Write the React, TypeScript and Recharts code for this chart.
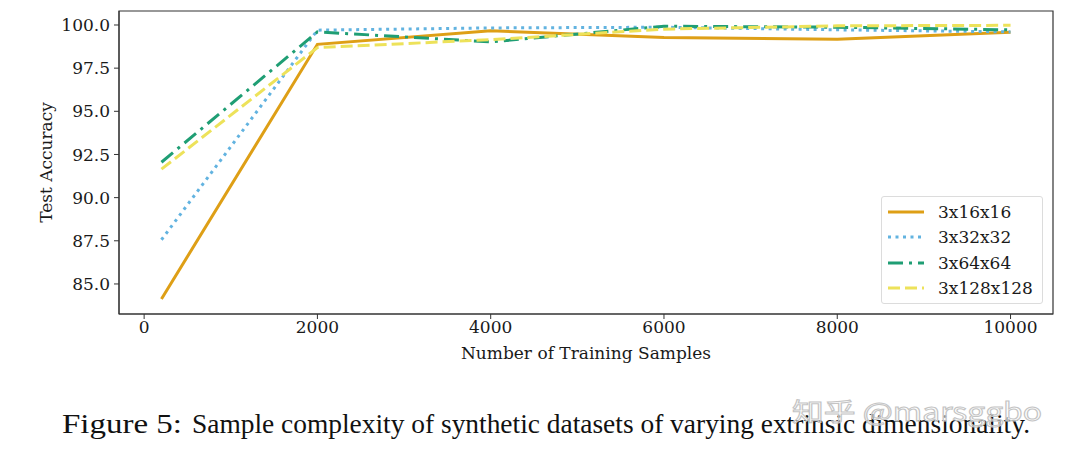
import { Line, LineChart, ReferenceArea, XAxis, YAxis } from 'recharts'

// training set sizes on the x axis
const SAMPLE_SIZES = [200, 2000, 4000, 6000, 8000, 10000]

// test accuracy per extrinsic dimensionality
const ACC_16 = [84.13, 98.88, 99.66, 99.27, 99.17, 99.58]
const ACC_32 = [87.56, 99.7, 99.83, 99.87, 99.72, 99.6]
const ACC_64 = [92.05, 99.6, 99.02, 99.93, 99.87, 99.72]
const ACC_128 = [91.65, 98.69, 99.15, 99.76, 99.95, 99.98]

const SERIES_NAMES = ['3x16x16', '3x32x32', '3x64x64', '3x128x128']
const SERIES_VALUES = [ACC_16, ACC_32, ACC_64, ACC_128]
const SERIES_COLORS = ['#DE9F16', '#62B3E0', '#1F9E74', '#EDE25A']
const SERIES_DASHES = [undefined, '3 4.5', '15 6 3 6', '12 5']

const X_TICKS = [0, 2000, 4000, 6000, 8000, 10000]
const Y_TICKS = [85, 87.5, 90, 92.5, 95, 97.5, 100]
const X_DOMAIN: [number, number] = [-290, 10490]
const Y_DOMAIN: [number, number] = [83.26, 100.81]

const FONT = "'DejaVu Serif', serif"
const INK = '#1a1a1a'
const KEYS = ['s16', 's32', 's64', 's128']

const chartData = SAMPLE_SIZES.map((n, i) => {
  const row: Record<string, number> = { n }
  SERIES_VALUES.forEach((vals, s) => {
    row[KEYS[s]] = vals[i]
  })
  return row
})

function ChartLegend() {
  return (
    <div
      style={{
        position: 'absolute',
        left: 881,
        top: 196,
        width: 162,
        height: 108,
        border: '1px solid #dcdcdc',
        borderRadius: 3,
        background: 'rgba(255,255,255,0.85)',
        boxSizing: 'border-box',
        fontFamily: FONT,
        fontSize: 17,
        color: INK,
      }}
    >
      {SERIES_NAMES.map((name, i) => (
        <div
          key={name}
          style={{ position: 'absolute', left: 6, top: 4 + i * 25.3, height: 22, display: 'flex', alignItems: 'center' }}
        >
          <svg width={36} height={10} style={{ marginRight: 14 }}>
            <line
              x1={0}
              y1={5}
              x2={36}
              y2={5}
              stroke={SERIES_COLORS[i]}
              strokeWidth={3}
              strokeDasharray={SERIES_DASHES[i]}
            />
          </svg>
          <span>{name}</span>
        </div>
      ))}
    </div>
  )
}

export default function App() {
  return (
    <div style={{ position: 'absolute', left: 0, top: 0, width: 1071, height: 461, background: '#fff' }}>
      <LineChart width={1071} height={370} data={chartData} margin={{ top: 11, right: 18, left: 0, bottom: 0 }}>
        <XAxis
          dataKey="n"
          type="number"
          domain={X_DOMAIN}
          ticks={X_TICKS}
          allowDataOverflow
          height={56}
          stroke="#333"
          tickSize={5}
          tickMargin={2}
          tick={{ fill: INK, fontSize: 17, fontFamily: FONT }}
          label={{
            value: 'Number of Training Samples',
            position: 'insideBottom',
            offset: 11,
            fill: INK,
            fontSize: 17,
            fontFamily: FONT,
          }}
        />
        <YAxis
          type="number"
          domain={Y_DOMAIN}
          ticks={Y_TICKS}
          allowDataOverflow
          width={119}
          stroke="#333"
          tickSize={5}
          tickMargin={4}
          tickFormatter={(v) => Number(v).toFixed(1)}
          tick={{ fill: INK, fontSize: 17, fontFamily: FONT }}
          label={{
            value: 'Test Accuracy',
            angle: -90,
            position: 'center',
            dx: -13.5,
            fill: INK,
            fontSize: 17,
            fontFamily: FONT,
          }}
        />
        <ReferenceArea
          x1={X_DOMAIN[0]}
          x2={X_DOMAIN[1]}
          y1={Y_DOMAIN[0]}
          y2={Y_DOMAIN[1]}
          fill="none"
          stroke="#333"
          strokeWidth={1.2}
          ifOverflow="visible"
        />
        {KEYS.map((k, i) => (
          <Line
            key={k}
            dataKey={k}
            name={SERIES_NAMES[i]}
            type="linear"
            stroke={SERIES_COLORS[i]}
            strokeWidth={3}
            strokeDasharray={SERIES_DASHES[i]}
            dot={false}
            activeDot={false}
            isAnimationActive={false}
          />
        ))}
      </LineChart>
      <ChartLegend />
      <svg width={1071} height={461} style={{ position: 'absolute', left: 0, top: 0, pointerEvents: 'none' }}>
        <text fontFamily="'Liberation Serif', serif" fontSize={27} fill="#111" y={433}>
          <tspan x={62} textLength={120} lengthAdjust="spacingAndGlyphs">
            Figure 5:
          </tspan>
          <tspan x={192} textLength={838} lengthAdjust="spacingAndGlyphs">
            Sample complexity of synthetic datasets of varying extrinsic dimensionality.
          </tspan>
        </text>
        <text
          x={792}
          y={421}
          fontFamily="'Noto Sans CJK SC', 'Noto Sans', sans-serif"
          fontSize={25}
          textLength={250}
          lengthAdjust="spacingAndGlyphs"
          fill="rgba(255,255,255,0.55)"
          stroke="#c4c4c4"
          strokeWidth={1}
        >
          知乎 @marsggbo
        </text>
      </svg>
    </div>
  )
}
